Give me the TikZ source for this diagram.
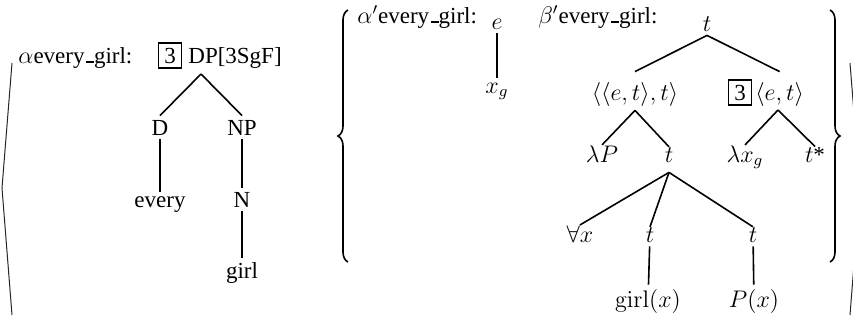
\documentclass[tikz,border=0pt]{standalone}
\usepackage[no-math]{fontspec}
\setmainfont{Liberation Serif}
\usetikzlibrary{decorations.pathreplacing}
\newcommand{\myus}{\kern0.06em\rule{0.35em}{0.08em}}
\tikzset{
  lbl/.style={anchor=base,inner sep=2pt,font=\fontsize{11.5}{14}\selectfont},
  ttl/.style={anchor=base west,inner sep=0pt,font=\fontsize{11.5}{14}\selectfont},
  numbox/.style={lbl,draw,line width=0.8pt,inner xsep=2.8pt,inner ysep=2.4pt},
  edge/.style={line width=0.8pt},
  bracket/.style={line width=0.5pt,black!85},
  bigbrace/.style={line width=0.8pt,decorate,decoration={brace,amplitude=5pt}}
}
\begin{document}
\begin{tikzpicture}[x=0.5pt,y=-0.5pt]
\useasboundingbox (0,0) rectangle (853,323);
\clip (0,0) rectangle (853,323);
% angle brackets
\coordinate (la1) at (12,63);
\coordinate (la2) at (2,188);
\coordinate (la3) at (12,315);
\draw[bracket] (la1) -- (la2) -- (la3);
\coordinate (ra1) at (850,63);
\coordinate (ra2) at (860,188);
\coordinate (ra3) at (850,315);
\draw[bracket] (ra1) -- (ra2) -- (ra3);
% braces
\coordinate (lb1) at (348,262);
\coordinate (lb2) at (348,10);
\draw[bigbrace] (lb1) -- (lb2);
\coordinate (rb1) at (830,10);
\coordinate (rb2) at (830,262);
\draw[bigbrace] (rb1) -- (rb2);

% ---- alpha tree
\node[ttl] (ta) at (18,63) {$\alpha$every\myus girl:};
\node[numbox] (box1) at (170,63) {3};
\node[ttl] (DP) at (188,63) {DP[3SgF]};
\node[lbl] (D) at (160,135) {D};
\node[lbl] (NP) at (242,135) {NP};
\node[lbl] (every) at (160,207) {every};
\node[lbl] (N) at (242,207) {N};
\node[lbl] (girl) at (242,278) {girl};
\coordinate (dpapex) at (201,74);
\draw[edge] (dpapex) -- (D.north);
\draw[edge] (dpapex) -- (NP.north);
\draw[edge] (D) -- (every);
\draw[edge] (NP) -- (N);
\draw[edge] (N) -- (girl);

% ---- alpha' tree
\node[ttl] (tap) at (357,23) {$\alpha'$every\myus girl:};
\node[lbl] (e) at (497,29) {$e$};
\node[lbl] (xg) at (497,93) {$x_g$};
\draw[edge] (e) -- (xg);

% ---- beta' tree
\node[ttl] (tbp) at (538,23) {$\beta'$every\myus girl:};
\node[lbl] (root) at (707,31) {$t$};
\node[lbl] (A) at (635,100) {$\langle\langle e,t\rangle,t\rangle$};
\node[numbox] (box2) at (740,100) {3};
\node[lbl,anchor=base west,inner xsep=0pt] (B) at (755,100) {$\langle e,t\rangle$};
\node[lbl] (lP) at (602,162) {$\lambda P$};
\node[lbl] (tA) at (669,162) {$t$};
\node[lbl] (lx) at (745,162) {$\lambda x_g$};
\node[lbl] (ts) at (815,162) {$t$*};
\node[lbl] (fa) at (580,242) {$\forall x$};
\node[lbl] (tm) at (650,242) {$t$};
\node[lbl] (tr) at (753,242) {$t$};
\node[lbl] (gx) at (648,307) {$\mathrm{girl}(x)$};
\node[lbl] (px) at (754,307) {$P(x)$};
\coordinate (Bapex) at (778,110);
\draw[edge] (root.south) -- ([yshift=3pt]A.north);
\draw[edge] (root.south) -- ([yshift=3pt]B.north);
\draw[edge] (A.south) -- ([yshift=-2pt]lP.north);
\draw[edge] (A.south) -- ([yshift=-2pt]tA.north);
\draw[edge] (Bapex) -- ([yshift=-2pt]lx.north);
\draw[edge] (Bapex) -- ([yshift=-2pt]ts.north);
\draw[edge] ([yshift=-3pt]tA.south) -- ([yshift=-2pt]fa.north);
\draw[edge] ([yshift=-3pt]tA.south) -- ([yshift=-2pt]tm.north);
\draw[edge] ([yshift=-3pt]tA.south) -- ([yshift=-2pt]tr.north);
\draw[edge] (tm) -- (gx);
\draw[edge] (tr) -- (px);
\end{tikzpicture}
\end{document}
